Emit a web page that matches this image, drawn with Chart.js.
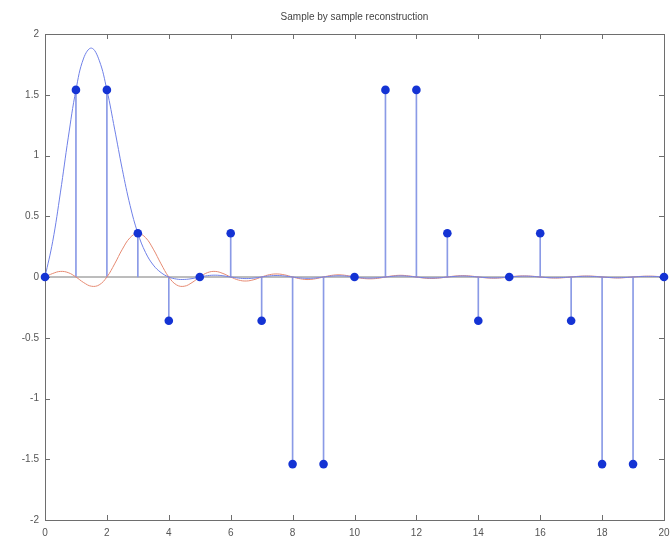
<!DOCTYPE html>
<html>
<head>
<meta charset="utf-8">
<script src="https://cdn.jsdelivr.net/npm/chart.js@4.4.0/dist/chart.umd.min.js"></script>
<style>
  html, body { margin: 0; padding: 0; background: #fff; }
  #wrap { width: 670px; height: 542px; }
</style>
</head>
<body>
<div id="wrap"><canvas id="c" width="670" height="542"></canvas></div>
<script>
// ---- data ----
const titleText = "Sample by sample reconstruction";
const sampleX = [0,1,2,3,4,5,6,7,8,9,10,11,12,13,14,15,16,17,18,19,20];
const sampleY = [0,1.54,1.54,0.36,-0.36,0,0.36,-0.36,-1.54,-1.54,0,1.54,1.54,0.36,-0.36,0,0.36,-0.36,-1.54,-1.54,0];

const curveX = [0,0.25,0.5,0.75,1,1.25,1.5,1.75,2,2.25,2.5,2.75,3,3.25,3.5,3.75,4,4.25,4.5,4.75,
  5,5.25,5.5,5.75,6,6.25,6.5,6.75,7,7.25,7.5,7.75,8,8.25,8.5,8.75,9,9.25,9.5,9.75,
  10,10.25,10.5,10.75,11,11.25,11.5,11.75,12,12.25,12.5,12.75,13,13.25,13.5,13.75,14,14.25,14.5,14.75,
  15,15.25,15.5,15.75,16,16.25,16.5,16.75,17,17.25,17.5,17.75,18,18.25,18.5,18.75,19,19.25,19.5,19.75,20];

const blueCurve = [0,0.294,0.699,1.145,1.54,1.802,1.884,1.784,1.54,1.217,0.883,0.588,0.36,0.201,0.098,0.036,0,-0.017,-0.020,-0.013,
  0,0.011,0.015,0.010,0,-0.009,-0.013,-0.009,0,0.009,0.012,0.008,0,-0.008,-0.011,-0.008,0,0.007,0.010,0.007,
  0,-0.007,-0.009,-0.006,0,0.006,0.009,0.006,0,-0.006,-0.008,-0.006,0,0.005,0.008,0.005,0,-0.005,-0.007,-0.005,
  0,0.005,0.007,0.005,0,-0.005,-0.006,-0.004,0,0.004,0.006,0.004,0,-0.004,-0.006,-0.004,0,0.004,0.005,0.004,0];

const redCurve = [0,0.029,0.046,0.036,0,-0.046,-0.076,-0.065,0,0.108,0.229,0.324,0.36,0.324,0.229,0.108,0,-0.065,-0.076,-0.046,
  0,0.036,0.046,0.029,0,-0.025,-0.033,-0.022,0,0.019,0.025,0.017,0,-0.015,-0.021,-0.014,0,0.013,0.018,0.012,
  0,-0.011,-0.015,-0.011,0,0.010,0.014,0.009,0,-0.009,-0.012,-0.008,0,0.008,0.011,0.008,0,-0.007,-0.010,-0.007,
  0,0.007,0.009,0.006,0,-0.006,-0.009,-0.006,0,0.006,0.008,0.006,0,-0.005,-0.008,-0.005,0,0.005,0.007,0.005,0];

const baselineX = [0, 20];
const baselineY = [0, 0];

const xTicksMin = 0, xTicksMax = 20, xStep = 2;
const yTicksMin = -2, yTicksMax = 2, yStep = 0.5;

// ---- helpers ----
const pts = (xs, ys) => xs.map((x, i) => ({ x: x, y: ys[i] }));
const FONT = "'Liberation Sans', Arial, Helvetica, sans-serif";
const AXIS_COLOR = '#6e6e6e';

const boxPlugin = {
  id: 'matlabBox',
  beforeDatasetsDraw(chart) {
    const { ctx, chartArea: a, scales } = chart;
    ctx.save();
    ctx.strokeStyle = AXIS_COLOR;
    ctx.lineWidth = 1;
    ctx.strokeRect(Math.round(a.left) + 0.5, Math.round(a.top) + 0.5,
                   Math.round(a.right - a.left), Math.round(a.bottom - a.top));
    const tl = 5;
    ctx.beginPath();
    scales.x.ticks.forEach(t => {
      const px = Math.round(scales.x.getPixelForValue(t.value)) + 0.5;
      ctx.moveTo(px, a.bottom); ctx.lineTo(px, a.bottom - tl);
      ctx.moveTo(px, a.top); ctx.lineTo(px, a.top + tl);
    });
    scales.y.ticks.forEach(t => {
      const py = Math.round(scales.y.getPixelForValue(t.value)) + 0.5;
      ctx.moveTo(a.left, py); ctx.lineTo(a.left + tl, py);
      ctx.moveTo(a.right, py); ctx.lineTo(a.right - tl, py);
    });
    ctx.stroke();
    ctx.restore();
  },
  afterDraw(chart) {
    const { ctx, chartArea: a } = chart;
    ctx.save();
    ctx.fillStyle = '#444';
    ctx.font = '10px ' + FONT;
    ctx.textAlign = 'center';
    ctx.textBaseline = 'middle';
    ctx.fillText(titleText, (a.left + a.right) / 2, 17);
    ctx.restore();
  }
};

new Chart(document.getElementById('c'), {
  type: 'scatter',
  data: {
    datasets: [
      {
        type: 'scatter',
        data: pts(sampleX, sampleY),
        pointRadius: 4.3,
        pointBackgroundColor: '#1433d4',
        pointBorderColor: '#1433d4',
        pointBorderWidth: 0,
        showLine: false,
        clip: false,
        order: 0
      },
      {
        type: 'line',
        data: pts(curveX, blueCurve),
        borderColor: '#6f80e8',
        borderWidth: 1,
        pointRadius: 0,
        tension: 0.4,
        fill: false,
        order: 1
      },
      {
        type: 'line',
        data: pts(curveX, redCurve),
        borderColor: '#e68a72',
        borderWidth: 1,
        pointRadius: 0,
        tension: 0.4,
        fill: false,
        order: 2
      },
      {
        type: 'bar',
        data: pts(sampleX, sampleY),
        backgroundColor: '#8a9ae6',
        borderWidth: 0,
        barThickness: 1,
        order: 3
      },
      {
        type: 'line',
        data: pts(baselineX, baselineY),
        borderColor: '#7a7a7a',
        borderWidth: 1,
        pointRadius: 0,
        fill: false,
        order: 4
      }
    ]
  },
  options: {
    responsive: false,
    animation: false,
    events: [],
    layout: { padding: { left: 0, right: 0, top: 34, bottom: 0 } },
    plugins: {
      legend: { display: false },
      tooltip: { enabled: false },
      title: { display: false }
    },
    scales: {
      x: {
        type: 'linear',
        min: xTicksMin, max: xTicksMax,
        offset: false,
        grid: { display: false, drawTicks: false },
        border: { display: false },
        ticks: {
          stepSize: xStep,
          color: '#555',
          font: { family: FONT, size: 10 },
          padding: 7,
          maxRotation: 0
        },
        afterFit(s) { s.height = 22; s.paddingRight = 6; s.paddingLeft = 0; }
      },
      y: {
        type: 'linear',
        min: yTicksMin, max: yTicksMax,
        grid: { display: false, drawTicks: false },
        border: { display: false },
        ticks: {
          stepSize: yStep,
          color: '#555',
          font: { family: FONT, size: 10 },
          padding: 6,
          callback: (v) => String(Math.round(v * 10) / 10)
        },
        afterFit(s) { s.width = 45; s.paddingTop = 0; s.paddingBottom = 0; }
      }
    }
  },
  plugins: [boxPlugin]
});
</script>
</body>
</html>
